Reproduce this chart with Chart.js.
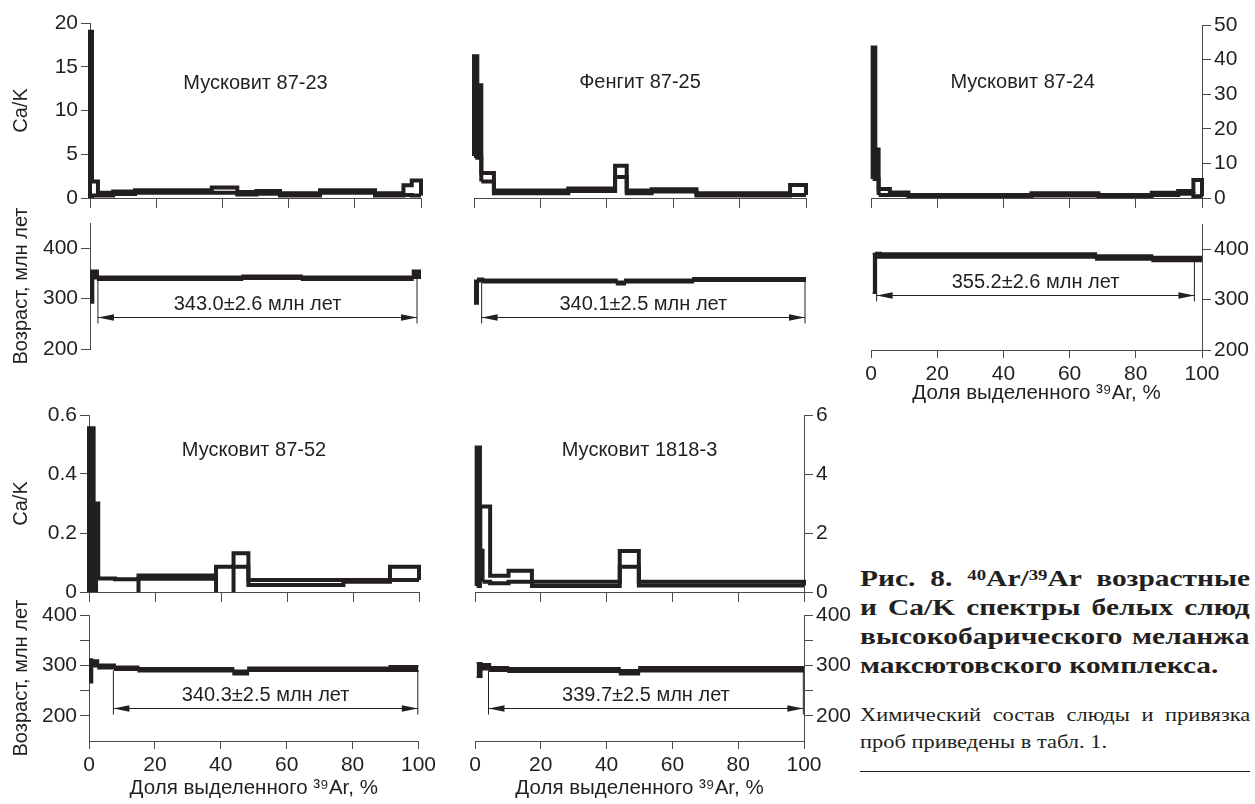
<!DOCTYPE html>
<html>
<head>
<meta charset="utf-8">
<script src="https://cdn.jsdelivr.net/npm/chart.js@4.4.1/dist/chart.umd.min.js"></script>
<style>
  html, body { margin: 0; padding: 0; background: #fff; }
  #fig { position: relative; width: 1255px; height: 804px; overflow: hidden; }
  #fig canvas { position: absolute; }
  #cap { position: absolute; left: 860px; top: 564px; width: 390px; color: #231f20;
         font-family: 'Liberation Serif', 'Times New Roman', serif; }
  #cap .ln { white-space: nowrap; width: max-content; transform-origin: 0 0; }
  #cap .b { font-weight: bold; font-size: 23px; line-height: 29px; }
  #cap .r { font-size: 19px; line-height: 27px; }
  #cap sup { font-size: 0.64em; vertical-align: 0.42em; line-height: 0; }
  #rule { position: absolute; left: 860px; top: 771px; width: 390px; border-top: 1px solid #231f20; }
</style>
</head>
<body>
<div id="fig">
  <div id="cap">
    <div class="ln b j">Рис. 8. <sup>40</sup>Ar/<sup>39</sup>Ar возрастные</div>
    <div class="ln b j">и Ca/K спектры белых слюд</div>
    <div class="ln b j">высокобарического меланжа</div>
    <div class="ln b">максютовского комплекса.</div>
    <div class="ln r j" style="margin-top:21px">Химический состав слюды и привязка</div>
    <div class="ln r">проб приведены в табл. 1.</div>
  </div>
  <div id="rule"></div>
</div>
<script>
// tick values
const pctTicks = [0, 20, 40, 60, 80, 100];
const ageTicks = [200, 250, 300, 350, 400, 450];
const ageTicksLow = [200, 250, 300, 350, 400];
const ageLabels = [200, 300, 400];

// 87-23 (мусковит)
const caPct_8723 = [0, 0.6, 2.4, 7, 13.6, 36.8, 44.5, 50.3, 57.4, 69.5, 86.1, 94.7, 97.2, 100];
const caHi_8723 = [19, 1.9, 0.6, 0.75, 0.9, 1.2, 0.7, 0.8, 0.55, 0.9, 0.55, 1.45, 2.0];
const caLo_8723 = [0, 0.3, 0.3, 0.45, 0.6, 0.6, 0.4, 0.5, 0.3, 0.6, 0.3, 0.35, 0.3];
const agePct_8723 = [0, 1, 2.4, 46, 64, 97.5, 100];
const ageHi_8723 = [356, 356, 344, 346, 344, 356];
const ageLo_8723 = [292, 340, 337, 339, 337, 341];

// 87-25 (фенгит)
const caPct_8725 = [0, 1.0, 2.2, 6, 28.4, 42.5, 46, 53.5, 67, 95.2, 100];
const caHi_8725 = [16.2, 12.9, 2.85, 0.85, 1.1, 3.7, 0.85, 1.0, 0.55, 1.5];
const caLo_8725 = [4.8, 4.6, 1.9, 0.55, 0.8, 2.4, 0.55, 0.75, 0.3, 0.35];
const agePct_8725 = [0, 1.2, 2.8, 43, 45.5, 66, 100];
const ageHi_8725 = [336, 340, 338, 334, 338, 341];
const ageLo_8725 = [290, 334, 332, 328, 332, 335];

// 87-24 (мусковит)
const caPct_8724 = [0.5, 1.3, 2.3, 5.7, 11.3, 48.5, 68.7, 84.8, 92.8, 97.4, 100];
const caHi_8724 = [43.5, 14, 2.6, 1.6, 0.9, 1.4, 0.9, 1.5, 2.0, 5.2];
const caLo_8724 = [5.5, 5.5, 0.9, 0.9, 0.3, 0.7, 0.3, 0.9, 1.2, 0.5];
const agePct_8724 = [0.5, 1.5, 3, 68, 85, 100];
const ageHi_8724 = [391, 393, 392, 388, 385];
const ageLo_8724 = [313, 383, 383, 379, 376];

// 87-52 (мусковит)
const caPct_8752 = [0, 1.4, 2.8, 7.9, 15, 38.5, 43.8, 48.3, 77.1, 91.2, 100];
const caHi_8752 = [0.555, 0.30, 0.046, 0.043, 0.056, 0.086, 0.131, 0.041, 0.041, 0.086];
const caLo_8752 = [-0.02, -0.02, -0.02, -0.02, 0.045, -0.02, 0.086, 0.024, 0.035, 0.041];
const agePct_8752 = [0, 1, 2.8, 7.9, 15, 43.8, 48.3, 91.2, 100];
const ageHi_8752 = [312, 310, 302, 298, 295, 290, 296, 299];
const ageLo_8752 = [266, 298, 294, 291, 288, 282, 289, 289];

// 1818-3 (мусковит)
const caPct_18183 = [0.5, 1.5, 2.3, 4.6, 10.2, 17.3, 44, 49.8, 100];
const caHi_18183 = [4.9, 2.9, 2.9, 0.55, 0.72, 0.35, 1.39, 0.35];
const caLo_18183 = [0.2, 1.4, 0.35, 0.3, 0.35, 0.2, 0.86, 0.22];
const agePct_18183 = [0.5, 2, 4.6, 10.1, 44, 49.9, 100];
const ageHi_18183 = [305, 303, 297, 295, 291, 297];
const ageLo_18183 = [277, 292, 289, 287, 282, 288];

const ink = '#231f20';
const axisColor = '#4a4a4a';
const sans = "'Liberation Sans', 'DejaVu Sans', Arial, sans-serif";
Chart.defaults.font.family = sans;
Chart.defaults.color = ink;

// caption: wide serif, justified lines
const capWidth = 390;
document.querySelectorAll('#cap .ln').forEach(el => {
    let s = el.classList.contains('b') ? 1.28 : 1.18;
    const w = el.offsetWidth;
    if (el.classList.contains('j')) {
        const gaps = (el.textContent.match(/ /g) || []).length;
        if (w * s > capWidth) s = capWidth / w;
        else if (gaps) el.style.wordSpacing = ((capWidth / s - w) / gaps) + 'px';
    }
    el.style.transform = 'scaleX(' + s + ')';
});

// step outline helpers
function stepPts(xs, ys) {
    let pts = [];
    for (let i = 0; i < ys.length; i++) pts.push({x: xs[i], y: ys[i]});
    pts.push({x: xs[xs.length - 1], y: ys[ys.length - 1]});
    return pts;
}
function boxPts(xs, hi, lo) {
    let pts = [{x: xs[0], y: lo[0]}];
    pts = pts.concat(stepPts(xs, hi));
    pts.push({x: xs[xs.length - 1], y: lo[lo.length - 1]});
    return pts;
}

const sampleName = {
    id: 'sampleName',
    afterDatasetsDraw(chart, args, o) {
        if (!o.text) return;
        const ctx = chart.ctx;
        ctx.save();
        ctx.font = '20px ' + sans;
        ctx.fillStyle = ink;
        ctx.textAlign = 'center';
        ctx.textBaseline = 'middle';
        ctx.fillText(o.text, chart.scales.x.getPixelForValue(o.x), chart.scales.y.getPixelForValue(o.y));
        ctx.restore();
    }
};

const plateau = {
    id: 'plateau',
    afterDatasetsDraw(chart, args, o) {
        if (!o.range) return;
        const ctx = chart.ctx;
        const x1 = chart.scales.x.getPixelForValue(o.range[0]);
        const x2 = chart.scales.x.getPixelForValue(o.range[1]);
        const ya = Math.round(chart.scales.y.getPixelForValue(o.level)) + 0.5;
        const yt = chart.scales.y.getPixelForValue(o.top);
        ctx.save();
        ctx.strokeStyle = ink;
        ctx.fillStyle = ink;
        ctx.lineWidth = 1;
        ctx.beginPath();
        ctx.moveTo(x1, yt); ctx.lineTo(x1, ya + 6);
        ctx.moveTo(x2, yt); ctx.lineTo(x2, ya + 6);
        ctx.moveTo(x1, ya); ctx.lineTo(x2, ya);
        ctx.stroke();
        ctx.beginPath();
        ctx.moveTo(x1, ya); ctx.lineTo(x1 + 16, ya - 3.2); ctx.lineTo(x1 + 16, ya + 3.2); ctx.closePath();
        ctx.moveTo(x2, ya); ctx.lineTo(x2 - 16, ya - 3.2); ctx.lineTo(x2 - 16, ya + 3.2); ctx.closePath();
        ctx.fill();
        ctx.font = '20px ' + sans;
        ctx.textAlign = 'center';
        ctx.textBaseline = 'middle';
        ctx.fillText(o.label, (x1 + x2) / 2, ya - 13);
        ctx.restore();
    }
};

function xAxis(show, h, tickLen, labels) {
    return {
        type: 'linear', min: 0, max: 100, display: show,
        afterBuildTicks: s => { s.ticks = pctTicks.map(v => ({value: v})); },
        afterFit: s => { s.height = h; },
        grid: {drawOnChartArea: false, tickLength: tickLen, color: axisColor},
        border: {display: true, color: axisColor},
        ticks: {display: labels, padding: 4, maxRotation: 0, autoSkip: false, font: {size: 21}},
        title: {display: labels, text: 'Доля выделенного ³⁹Ar, %', font: {size: 20.5}, padding: 0}
    };
}

function yAxis(o) {
    return {
        type: 'linear', min: o.min, max: o.max, position: o.pos || 'left', display: o.show !== false,
        afterBuildTicks: s => { s.ticks = o.ticks.map(v => ({value: v})); },
        afterFit: s => { s.width = o.w; },
        grid: {drawOnChartArea: false, tickLength: 9, color: axisColor},
        border: {display: true, color: axisColor},
        ticks: {padding: 3, font: {size: 21},
            callback: v => (o.labels || o.ticks).includes(v) ? String(v) : ''},
        title: {display: !!o.title, text: o.title || '', font: {size: 20}, padding: {top: 9, bottom: 0}}
    };
}

// very narrow steps print as solid bars
const narrowFill = c => (c.p1.x - c.p0.x) < 5 ? ink : 'rgba(0,0,0,0)';

function caSets(xs, hi, lo) {
    const base = {stepped: 'before', borderColor: ink, borderWidth: 4, pointRadius: 0,
        borderJoinStyle: 'miter', clip: {left: 6, right: 6, top: 6, bottom: 0}};
    return [
        Object.assign({data: boxPts(xs, hi, lo), fill: false}, base),
        Object.assign({data: stepPts(xs, lo), fill: '-1', backgroundColor: 'rgba(0,0,0,0)',
            segment: {backgroundColor: narrowFill}}, base)
    ];
}

function ageSets(xs, hi, lo) {
    const base = {stepped: 'before', borderColor: ink, borderWidth: 2, pointRadius: 0,
        borderJoinStyle: 'miter', clip: false};
    return [
        Object.assign({data: stepPts(xs, hi), fill: '+1', backgroundColor: ink}, base),
        Object.assign({data: stepPts(xs, lo), fill: false}, base)
    ];
}

function plot(rect, pad, xs, ys, datasets, extra) {
    let c = document.createElement('canvas');
    c.width = rect[2];
    c.height = rect[3];
    c.style.left = rect[0] + 'px';
    c.style.top = rect[1] + 'px';
    c.style.width = rect[2] + 'px';
    c.style.height = rect[3] + 'px';
    document.getElementById('fig').appendChild(c);
    return new Chart(c, {
        type: 'line',
        data: {datasets: datasets},
        options: {
            responsive: false,
            animation: false,
            devicePixelRatio: 1,
            layout: {padding: pad},
            scales: {x: xs, y: ys},
            plugins: Object.assign({legend: {display: false}, tooltip: {enabled: false}}, extra)
        },
        plugins: [sampleName, plateau]
    });
}

// top row: Ca/K
plot([0, 0, 440, 216], {left: 0, right: 19, top: 23, bottom: 6},
    xAxis(true, 12, 10, false),
    yAxis({min: 0, max: 20, ticks: [0, 5, 10, 15, 20], w: 90, title: 'Ca/K'}),
    caSets(caPct_8723, caHi_8723, caLo_8723),
    {sampleName: {text: 'Мусковит 87-23', x: 50, y: 13.1}});

plot([450, 0, 380, 216], {left: 24, right: 24, top: 23, bottom: 6},
    xAxis(true, 12, 10, false),
    yAxis({min: 0, max: 20, ticks: [0, 5, 10, 15, 20], w: 0, show: false}),
    caSets(caPct_8725, caHi_8725, caLo_8725),
    {sampleName: {text: 'Фенгит 87-25', x: 50, y: 13.2}});

plot([850, 0, 405, 216], {left: 21, right: 3, top: 25, bottom: 6},
    xAxis(true, 12, 10, false),
    yAxis({min: 0, max: 50, ticks: [0, 10, 20, 30, 40, 50], w: 50, pos: 'right'}),
    caSets(caPct_8724, caHi_8724, caLo_8724),
    {sampleName: {text: 'Мусковит 87-24', x: 45.8, y: 33.5}});

// top row: age
plot([0, 200, 440, 170], {left: 0, right: 19, top: 23, bottom: 21},
    xAxis(false, 0, 0, false),
    yAxis({min: 200, max: 450, ticks: ageTicks, labels: ageLabels, w: 90, title: 'Возраст, млн лет'}),
    ageSets(agePct_8723, ageHi_8723, ageLo_8723),
    {plateau: {range: [2.4, 98.8], level: 263, top: 340, label: '343.0±2.6 млн лет'}});

plot([450, 200, 380, 170], {left: 24, right: 24, top: 23, bottom: 21},
    xAxis(false, 0, 0, false),
    yAxis({min: 200, max: 450, ticks: ageTicks, w: 0, show: false}),
    ageSets(agePct_8725, ageHi_8725, ageLo_8725),
    {plateau: {range: [2.3, 99.7], level: 264, top: 335, label: '340.1±2.5 млн лет'}});

plot([850, 200, 405, 220], {left: 21, right: 3, top: 24, bottom: 14},
    xAxis(true, 56, 8, true),
    yAxis({min: 200, max: 450, ticks: ageTicks, labels: ageLabels, w: 50, pos: 'right'}),
    ageSets(agePct_8724, ageHi_8724, ageLo_8724),
    {plateau: {range: [1.7, 97.7], level: 310, top: 385, label: '355.2±2.6 млн лет'}});

// bottom row: Ca/K
plot([0, 390, 440, 220], {left: 0, right: 21, top: 25, bottom: 6},
    xAxis(true, 12, 10, false),
    yAxis({min: 0, max: 0.6, ticks: [0, 0.2, 0.4, 0.6], w: 89, title: 'Ca/K'}),
    caSets(caPct_8752, caHi_8752, caLo_8752),
    {sampleName: {text: 'Мусковит 87-52', x: 50, y: 0.48}});

plot([450, 390, 410, 220], {left: 25, right: 6, top: 25, bottom: 6},
    xAxis(true, 12, 10, false),
    yAxis({min: 0, max: 6, ticks: [0, 2, 4, 6], w: 50, pos: 'right'}),
    caSets(caPct_18183, caHi_18183, caLo_18183),
    {sampleName: {text: 'Мусковит 1818-3', x: 50, y: 4.8}});

// bottom row: age
plot([0, 590, 440, 214], {left: 0, right: 21, top: 25, bottom: 3},
    xAxis(true, 60, 8, true),
    yAxis({min: 150, max: 400, ticks: ageTicksLow, labels: ageLabels, w: 89, title: 'Возраст, млн лет'}),
    ageSets(agePct_8752, ageHi_8752, ageLo_8752),
    {plateau: {range: [7.4, 99.8], level: 216, top: 290, label: '340.3±2.5 млн лет'}});

plot([450, 590, 410, 214], {left: 25, right: 6, top: 25, bottom: 3},
    xAxis(true, 60, 8, true),
    yAxis({min: 150, max: 400, ticks: ageTicksLow, labels: ageLabels, w: 50, pos: 'right'}),
    ageSets(agePct_18183, ageHi_18183, ageLo_18183),
    {plateau: {range: [4.1, 99.8], level: 215, top: 290, label: '339.7±2.5 млн лет'}});
</script>
</body>
</html>
